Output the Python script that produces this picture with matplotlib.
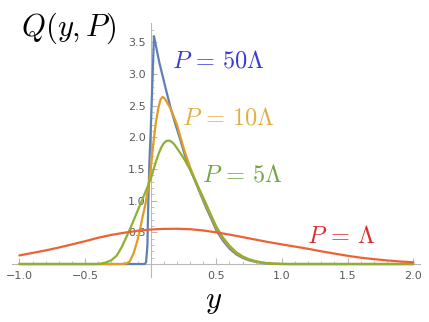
import matplotlib
matplotlib.use('Agg')
import matplotlib.pyplot as plt
from matplotlib.ticker import FixedLocator, FixedFormatter, NullFormatter

plt.rcParams['mathtext.fontset'] = 'cm'

# ---- data ----
x_red = [-1.0, -0.9, -0.8, -0.7, -0.6, -0.5, -0.4, -0.3, -0.2, -0.1, 0.0, 0.1, 0.2, 0.3, 0.4, 0.5,
         0.6, 0.7, 0.8, 0.9, 1.0, 1.1, 1.2, 1.3, 1.4, 1.5, 1.6, 1.7, 1.8, 1.9, 2.0]
y_red = [0.136, 0.175, 0.215, 0.26, 0.31, 0.36, 0.415, 0.46, 0.495, 0.525, 0.545, 0.555, 0.557, 0.55,
         0.53, 0.5, 0.465, 0.425, 0.385, 0.345, 0.31, 0.275, 0.24, 0.2, 0.165, 0.13, 0.1, 0.077,
         0.057, 0.04, 0.028]

x_blue = [-1.0, -0.045, -0.035, -0.025, -0.018, -0.01, 0.0, 0.025, 0.066, 0.117, 0.15, 0.185, 0.22,
          0.26, 0.3, 0.34, 0.38, 0.42, 0.46, 0.5, 0.55, 0.6, 0.65, 0.7, 0.75, 0.8, 0.85, 0.9, 0.95,
          1.0, 2.0]
y_blue = [0.0, 0.0, 0.03, 0.3, 1.0, 1.6, 2.1, 3.6, 3.18, 2.75, 2.48, 2.23, 2.0,
          1.72, 1.5, 1.3, 1.1, 0.9, 0.72, 0.53, 0.37, 0.245, 0.155, 0.097, 0.058, 0.033, 0.016,
          0.006, 0.002, 0.0, 0.0]

x_orange = [-1.0, -0.22, -0.19, -0.16, -0.13, -0.1, -0.08, -0.06, -0.04, -0.02, 0.0, 0.02, 0.04,
            0.06, 0.075, 0.09, 0.105, 0.12, 0.145, 0.17, 0.2, 0.23, 0.26, 0.3, 0.34, 0.38, 0.42,
            0.46, 0.5, 0.55, 0.6, 0.65, 0.7, 0.75, 0.8, 0.85, 0.9, 0.95, 1.0, 2.0]
y_orange = [0.0, 0.0, 0.005, 0.04, 0.17, 0.38, 0.56, 0.76, 0.95, 1.2, 1.5, 1.9, 2.25,
            2.48, 2.6, 2.64, 2.62, 2.57, 2.48, 2.36, 2.2, 1.98, 1.77, 1.53, 1.32, 1.12, 0.93,
            0.75, 0.56, 0.4, 0.27, 0.175, 0.11, 0.068, 0.038, 0.02, 0.009, 0.003, 0.0, 0.0]

x_green = [-1.0, -0.42, -0.38, -0.34, -0.3, -0.26, -0.22, -0.18, -0.14, -0.1, -0.06, -0.02, 0.0,
           0.02, 0.04, 0.06, 0.08, 0.1, 0.12, 0.14, 0.16, 0.18, 0.2, 0.23, 0.26, 0.3, 0.34, 0.38,
           0.42, 0.46, 0.5, 0.55, 0.6, 0.65, 0.7, 0.75, 0.8, 0.85, 0.9, 0.95, 1.0, 1.05, 2.0]
y_green = [0.0, 0.0, 0.005, 0.025, 0.06, 0.13, 0.27, 0.45, 0.64, 0.84, 1.04, 1.24, 1.34,
           1.48, 1.62, 1.74, 1.84, 1.91, 1.945, 1.95, 1.93, 1.89, 1.83, 1.74, 1.64, 1.49, 1.32, 1.14,
           0.96, 0.77, 0.59, 0.42, 0.29, 0.19, 0.12, 0.075, 0.045, 0.025, 0.012, 0.005, 0.002, 0.0, 0.0]

x_major = [-1.0, -0.5, 0.5, 1.0, 1.5, 2.0]
x_major_labels = ['\u22121.0', '\u22120.5', '0.5', '1.0', '1.5', '2.0']
y_major = [0.5, 1.0, 1.5, 2.0, 2.5, 3.0, 3.5]
y_major_labels = ['0.5', '1.0', '1.5', '2.0', '2.5', '3.0', '3.5']

labels = [r'$P\,=\,50\Lambda$', r'$P\,=\,10\Lambda$', r'$P\,=\,5\Lambda$', r'$P\,=\,\Lambda$']

# ---- figure ----
W, H = 429, 322
fig = plt.figure(figsize=(W / 100, H / 100), dpi=100)
ax = fig.add_axes([0, 0, 1, 1])
ax.set_xlim(-1.148, 2.120)
ax.set_ylim(-0.916, 4.171)
ax.patch.set_alpha(0)

c_blue, c_orange, c_green, c_red = '#5E81B5', '#E19C24', '#8FB032', '#EB6235'
for xs, ys, c in [(x_blue, y_blue, c_blue), (x_orange, y_orange, c_orange),
                  (x_green, y_green, c_green), (x_red, y_red, c_red)]:
    ax.plot(xs, ys, color=c, lw=1.6, solid_joinstyle='round', solid_capstyle='round', zorder=3)

for s in ['top', 'right']:
    ax.spines[s].set_visible(False)
axis_col = '#b8b8b8'
ax.spines['left'].set_position(('data', 0))
ax.spines['bottom'].set_position(('data', 0))
ax.spines['left'].set_bounds(-0.2, 3.81)
ax.spines['bottom'].set_bounds(-1.06, 2.05)
for s in ['left', 'bottom']:
    ax.spines[s].set_color(axis_col)
    ax.spines[s].set_linewidth(0.8)
    ax.spines[s].set_zorder(1)

ax.xaxis.set_major_locator(FixedLocator(x_major))
ax.xaxis.set_major_formatter(FixedFormatter(x_major_labels))
ax.yaxis.set_major_locator(FixedLocator(y_major))
ax.yaxis.set_major_formatter(FixedFormatter(y_major_labels))
xminor = [round(-1.0 + 0.1 * i, 2) for i in range(31)]
xminor = [v for v in xminor if abs(v * 2 - round(v * 2)) > 1e-6]
yminor = [round(0.1 * i, 2) for i in range(1, 38)]
yminor = [v for v in yminor if abs(v * 2 - round(v * 2)) > 1e-6]
ax.xaxis.set_minor_locator(FixedLocator(xminor))
ax.yaxis.set_minor_locator(FixedLocator(yminor))
ax.xaxis.set_minor_formatter(NullFormatter())
ax.yaxis.set_minor_formatter(NullFormatter())

ax.tick_params(which='major', direction='in', length=4, width=0.8, color=axis_col,
               labelsize=8, labelcolor='#5a5a5a')
ax.tick_params(which='minor', direction='in', length=2.2, width=0.6, color=axis_col)
ax.tick_params(axis='x', which='major', pad=5)
ax.tick_params(axis='y', which='major', pad=3.5)
ax.set_axisbelow(True)


def fpx(x, y):
    return x / W, 1 - y / H


fig.text(*fpx(20.7, 28), r'$Q(y,P)$', fontsize=22, ha='left', va='center')
fig.text(*fpx(213.7, 302), r'$y$', fontsize=22, ha='center', va='center')

lab_cols = ['#3b3bd6', '#E3AE4A', '#6FA640', '#DD2C2C']
lab_pos = [(171.7, 67.3), (181.7, 124.0), (201.7, 181.7), (306.7, 243.3)]
for t, c, (px, py) in zip(labels, lab_cols, lab_pos):
    fig.text(*fpx(px, py), t, fontsize=17.5, color=c, ha='left', va='baseline')

fig.savefig('out.png', dpi=100)
